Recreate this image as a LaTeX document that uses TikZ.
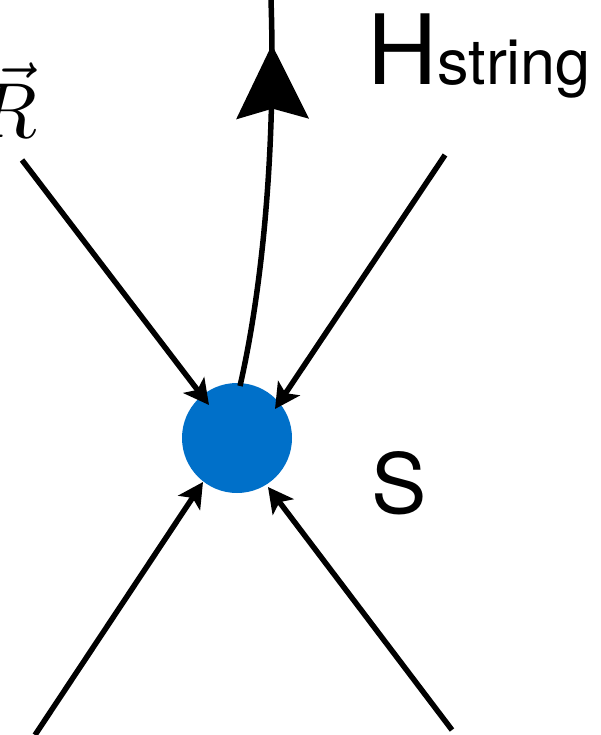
\documentclass[tikz,border=0pt]{standalone}
\usepackage{fontspec}
\newfontfamily\labelfont{TeX Gyre Heros}
\usetikzlibrary{arrows.meta,decorations.markings}
\definecolor{vertexblue}{RGB}{0,112,201}
\tikzset{
  conn/.style={line width=5.5pt,-{Stealth[length=25pt,width=26pt,inset=6pt]}},
  bigconn/.style={line width=5.5pt,postaction={decorate},
    decoration={markings,mark=at position 0.885 with {\arrow{Stealth[length=74pt,width=72pt,inset=10pt]}}}},
  lbl/.style={inner sep=0pt,font=\labelfont}
}
\begin{document}
\begin{tikzpicture}[x=1pt,y=-1pt]
\useasboundingbox (0,0) rectangle (601,735);
\node[circle,fill=vertexblue,minimum size=110pt,inner sep=0pt] (S) at (237,438) {};
\coordinate (tlstart) at (22,160);
\coordinate (tltip) at (209,405);
\coordinate (trstart) at (445,155);
\coordinate (trtip) at (275,409);
\coordinate (blstart) at (35,735);
\coordinate (bltip) at (203,482);
\coordinate (brstart) at (452,730);
\coordinate (brtip) at (268,487);
\coordinate (cstart) at (240,386);
\coordinate (cend) at (271,0);
\draw[conn] (tlstart) -- (tltip);
\draw[conn] (trstart) -- (trtip);
\draw[conn] (blstart) -- (bltip);
\draw[conn] (brstart) -- (brtip);
\draw[bigconn] (cstart) .. controls (262,290) and (276,150) .. (cend);
\node[lbl,anchor=base west] (H) at (367,85) {\fontsize{97}{100}\selectfont H\fontsize{63}{66}\selectfont string};
\node[lbl,anchor=base west] (Slabel) at (371,513) {\fontsize{83}{86}\selectfont S};
\node[inner sep=0pt,anchor=base east] (R) at (38,138) {\scalebox{7.8}{$\vec{R}$}};
\end{tikzpicture}
\end{document}
